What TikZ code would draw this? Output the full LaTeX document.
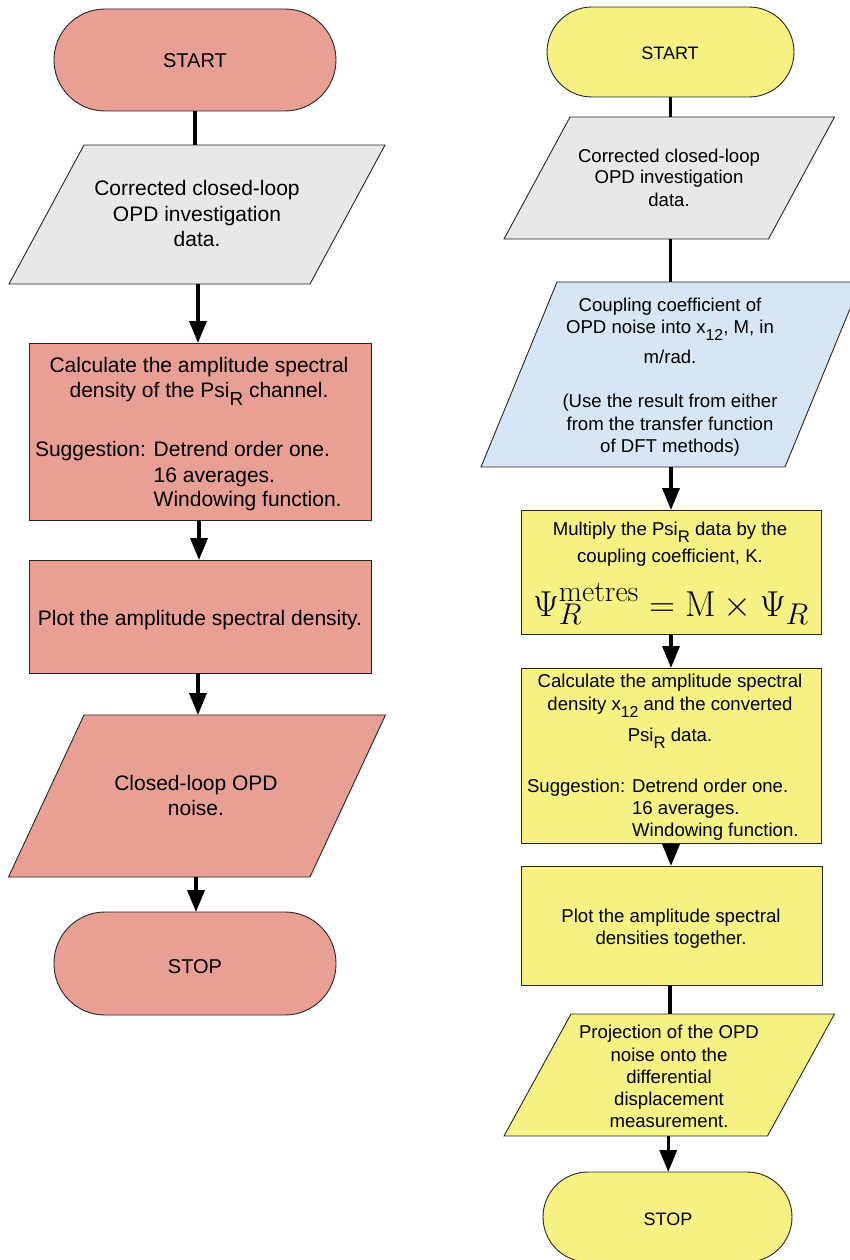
\documentclass[tikz,border=0pt]{standalone}
\usepackage[no-math]{fontspec}
\setmainfont{Liberation Sans}
\usepackage{graphicx}
\usetikzlibrary{arrows.meta}

\definecolor{redfill}{RGB}{232,160,149}
\definecolor{yellowfill}{RGB}{245,241,130}
\definecolor{bluefill}{RGB}{214,230,245}
\definecolor{grayfill}{RGB}{232,232,232}

% lowered subscript set in the text font
\newcommand\dnsub[2][0.9]{\raisebox{-0.4em}{\scalebox{#1}{#2}}}
% indent matching the width of the "Suggestion: " label
\newcommand\sugindent{\phantom{Suggestion: }}

% parallelogram drawn around a (borderless) node: #1 node, #2 half slant, #3 fill colour
\newcommand\slantbox[3]{%
  \path[frame, fill=#3] ([xshift=#2]#1.north west) -- ([xshift=#2]#1.north east)
    -- ([xshift=-#2]#1.south east) -- ([xshift=-#2]#1.south west) -- cycle;}

\begin{document}
\begin{tikzpicture}[x=1pt, y=-1pt,
  every node/.style={inner sep=0pt, outer sep=0pt},
  frame/.style={draw=black!85, line width=0.9pt},
  boxnode/.style={frame, rectangle},
  holder/.style={rectangle, draw=none},
  link/.style={line width=3.5pt, black},
  arrowlink/.style={link, -{Triangle[width=17pt,length=22pt]}},
  ltxt/.style={font=\fontsize{21}{25}\selectfont, anchor=base},
  rtxt/.style={font=\fontsize{18.6}{22}\selectfont, anchor=base}]

\useasboundingbox (0,0) rectangle (850,1260);

% ---------------- left column: shapes ----------------
\node[boxnode, fill=redfill, rounded corners=51, minimum width=282, minimum height=102] (Lstart) at (195,60) {};
\node[holder, minimum width=301, minimum height=139] (Ldata) at (197,214.5) {};
\slantbox{Ldata}{37.5}{grayfill}
\node[boxnode, fill=redfill, minimum width=342, minimum height=177] (Lasd) at (200,431.5) {};
\node[boxnode, fill=redfill, minimum width=342, minimum height=113] (Lplot) at (200,616.5) {};
\node[holder, minimum width=301.5, minimum height=162] (Lnoise) at (197,796) {};
\slantbox{Lnoise}{37.75}{redfill}
\node[boxnode, fill=redfill, rounded corners=51, minimum width=282, minimum height=103] (Lstop) at (195,963.5) {};

% ---------------- right column: shapes ----------------
\node[boxnode, fill=yellowfill, rounded corners=45, minimum width=247, minimum height=90] (Rstart) at (670.5,52) {};
\node[holder, minimum width=264.5, minimum height=122] (Rdata) at (669.25,178) {};
\slantbox{Rdata}{33}{grayfill}
\node[holder, minimum width=304, minimum height=185] (Rcoup) at (671,374.5) {};
\slantbox{Rcoup}{38}{bluefill}
\node[boxnode, fill=yellowfill, minimum width=300, minimum height=124] (Rmult) at (671,572) {};
\node[boxnode, fill=yellowfill, minimum width=300, minimum height=175] (Rasd) at (671,755.5) {};
\node[boxnode, fill=yellowfill, minimum width=301, minimum height=119] (Rplot) at (671.5,925.5) {};
\node[holder, minimum width=263.5, minimum height=122] (Rproj) at (669.25,1075) {};
\slantbox{Rproj}{33.5}{yellowfill}
\node[boxnode, fill=yellowfill, rounded corners=45, minimum width=249, minimum height=90] (Rstop) at (667.5,1217) {};

% ---------------- connectors ----------------
\draw[link]      (Lstart.south) -- (Lstart.south |- Ldata.north);
\draw[arrowlink] ([xshift=1]Ldata.south) -- ([xshift=1]Ldata.south |- Lasd.north);
\draw[arrowlink] ([xshift=-1]Lasd.south) -- ([xshift=-1]Lasd.south |- Lplot.north);
\draw[arrowlink] ([xshift=-2]Lplot.south) -- ([xshift=-2]Lplot.south |- Lnoise.north);
\draw[arrowlink] ([xshift=-1]Lnoise.south) -- ([xshift=-1]Lnoise.south |- Lstop.north);

\draw[link]      (Rstart.south) -- (Rstart.south |- Rdata.north);
\draw[link]      ([xshift=1]Rdata.south) -- ([xshift=1]Rdata.south |- Rcoup.north);
\draw[arrowlink] (Rcoup.south) -- (Rcoup.south |- Rmult.north);
\draw[arrowlink] (Rmult.south) -- (Rmult.south |- Rasd.north);
\draw[arrowlink] (Rasd.south) -- (Rasd.south |- Rplot.north);
\draw[link]      ([xshift=-1.5]Rplot.south) -- ([xshift=-1.5]Rplot.south |- Rproj.north);
\draw[arrowlink] ([xshift=-1]Rproj.south) -- ([xshift=-1]Rproj.south |- Rstop.north);

% ---------------- left column: texts ----------------
\node[ltxt, font=\fontsize{20}{24}\selectfont] (tLstart) at (195,68) {START};
\node[ltxt] (tLd1) at (197,196) {Corrected closed-loop};
\node[ltxt] (tLd2) at (197,221) {OPD investigation};
\node[ltxt] (tLd3) at (197,246) {data.};
\node[ltxt] (tLa1) at (199,372) {Calculate the amplitude spectral};
\node[ltxt] (tLa2) at (199,397) {density of the Psi\dnsub{R} channel.};
\node[ltxt, anchor=base west] (tLa3) at (35,456) {Suggestion: Detrend order one.};
\node[ltxt, anchor=base west] (tLa4) at (35,482) {\sugindent 16 averages.};
\node[ltxt, anchor=base west] (tLa5) at (35,506) {\sugindent Windowing function.};
\node[ltxt] (tLp) at (200,625) {Plot the amplitude spectral density.};
\node[ltxt] (tLn1) at (196,790) {Closed-loop OPD};
\node[ltxt] (tLn2) at (196,815) {noise.};
\node[ltxt, font=\fontsize{20}{24}\selectfont] (tLstop) at (195,973) {STOP};

% ---------------- right column: texts ----------------
\node[rtxt, font=\fontsize{18}{22}\selectfont] (tRstart) at (670,60) {START};
\node[rtxt] (tRd1) at (669,163) {Corrected closed-loop};
\node[rtxt] (tRd2) at (669,184) {OPD investigation};
\node[rtxt] (tRd3) at (669,206) {data.};
\node[rtxt] (tRc1) at (670,311) {Coupling coefficient of};
\node[rtxt] (tRc2) at (670,333) {OPD noise into x\dnsub[0.85]{12}, M, in};
\node[rtxt] (tRc3) at (670,363) {m/rad.};
\node[rtxt] (tRc4) at (670,407) {(Use the result from either};
\node[rtxt] (tRc5) at (670,430) {from the transfer function};
\node[rtxt] (tRc6) at (670,452) {of DFT methods)};
\node[rtxt] (tRm1) at (670,535) {Multiply the Psi\dnsub{R} data by the};
\node[rtxt] (tRm2) at (670,562) {coupling coefficient, K.};
\node[anchor=base, scale=1.447] (tRm3) at (671,616)
  {\Huge $\displaystyle \Psi_R^{\mathrm{metres}} = \mathrm{M}\times\Psi_R$};
\node[rtxt] (tRa1) at (670,687) {Calculate the amplitude spectral};
\node[rtxt] (tRa2) at (670,710) {density x\dnsub[0.85]{12} and the converted};
\node[rtxt] (tRa3) at (670,741) {Psi\dnsub{R} data.};
\node[rtxt, anchor=base west] (tRa4) at (527,792) {Suggestion: Detrend order one.};
\node[rtxt, anchor=base west] (tRa5) at (527,814) {\sugindent 16 averages.};
\node[rtxt, anchor=base west] (tRa6) at (527,836) {\sugindent Windowing function.};
\node[rtxt] (tRp1) at (671,922) {Plot the amplitude spectral};
\node[rtxt] (tRp2) at (671,944) {densities together.};
\node[rtxt] (tRj1) at (669,1038) {Projection of the OPD};
\node[rtxt] (tRj2) at (669,1061) {noise onto the};
\node[rtxt] (tRj3) at (669,1083) {differential};
\node[rtxt] (tRj4) at (669,1105) {displacement};
\node[rtxt] (tRj5) at (669,1127) {measurement.};
\node[rtxt, font=\fontsize{18}{22}\selectfont] (tRstop) at (668,1225) {STOP};
\end{tikzpicture}
\end{document}
